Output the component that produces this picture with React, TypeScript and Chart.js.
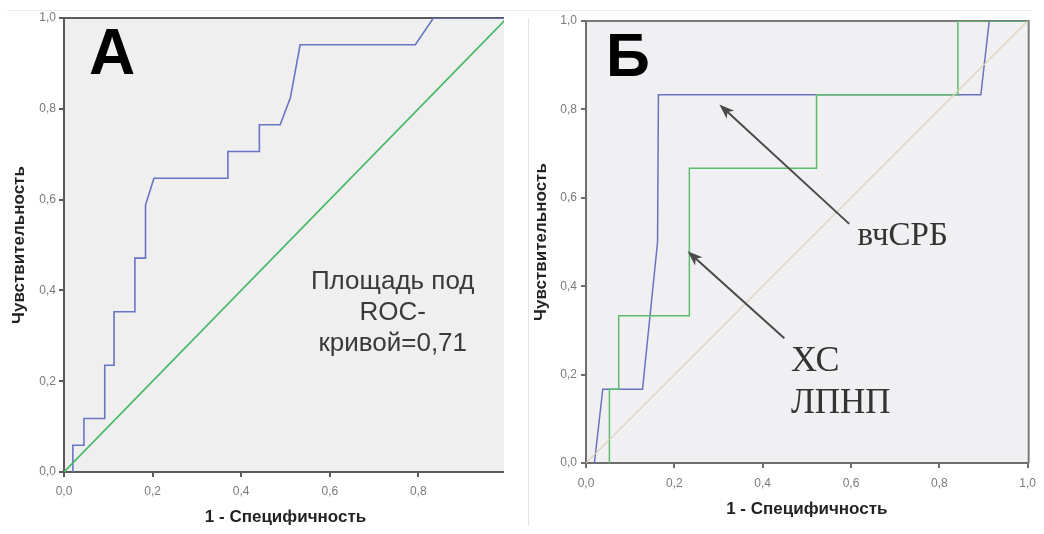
import React, { useEffect, useRef } from "react";
import { Chart, registerables } from "chart.js";

Chart.register(...registerables);

// ---------- shared ticks ----------
const tickValues = [0, 0.2, 0.4, 0.6, 0.8, 1.0];
const yTickLabels = ["0,0", "0,2", "0,4", "0,6", "0,8", "1,0"];
const xTickLabelsA = ["0,0", "0,2", "0,4", "0,6", "0,8", "1"];
const xTickLabelsB = ["0,0", "0,2", "0,4", "0,6", "0,8", "1,0"];

// ---------- panel A data ----------
const rocAx = [0.019, 0.02, 0.045, 0.045, 0.092, 0.092, 0.113, 0.113, 0.16, 0.16, 0.184, 0.184, 0.203, 0.37, 0.37, 0.441, 0.441, 0.488, 0.511, 0.533, 0.793, 0.834, 1.0];
const rocAy = [0.0, 0.059, 0.059, 0.118, 0.118, 0.235, 0.235, 0.353, 0.353, 0.471, 0.471, 0.588, 0.647, 0.647, 0.706, 0.706, 0.765, 0.765, 0.824, 0.941, 0.941, 1.0, 1.0];
const refAx = [0, 1];
const refAy = [0, 1];

// ---------- panel B data ----------
const crpX = [0.019, 0.038, 0.128, 0.162, 0.164, 0.894, 0.913, 1.0];
const crpY = [0.0, 0.167, 0.167, 0.5, 0.833, 0.833, 1.0, 1.0];
const ldlX = [0.053, 0.053, 0.074, 0.074, 0.234, 0.234, 0.522, 0.522, 0.842, 0.842, 1.0];
const ldlY = [0.0, 0.167, 0.167, 0.333, 0.333, 0.667, 0.667, 0.833, 0.833, 1.0, 1.0];
const refBx = [0, 1];
const refBy = [0, 1];

const pts = (xs: number[], ys: number[]) => xs.map((x, i) => ({ x, y: ys[i] }));

type TextItem = { text: string; x: number; y: number; font: string; color: string; align: CanvasTextAlign };
type Arrow = { x1: number; y1: number; x2: number; y2: number };
type Deco = {
  bg: string;
  frameColor: string;
  frameWidth: number;
  frameRight: boolean;
  letter: string;
  letterFont: string;
  letterDx: number;
  letterDy: number;
  texts: TextItem[];
  arrows: Arrow[];
};

function makeDeco(d: Deco) {
  return {
    id: "panelDeco",
    beforeDraw(chart: any) {
      const { ctx, chartArea } = chart;
      const { left, top, right, bottom } = chartArea;
      ctx.save();
      ctx.fillStyle = d.bg;
      ctx.fillRect(left, top, right - left, bottom - top);
      ctx.restore();
    },
    beforeDatasetsDraw(chart: any) {
      const { ctx, chartArea } = chart;
      const { left, top, right, bottom } = chartArea;
      ctx.save();
      ctx.strokeStyle = d.frameColor;
      ctx.lineWidth = d.frameWidth;
      ctx.beginPath();
      ctx.moveTo(left, top);
      ctx.lineTo(right + 1, top);
      if (d.frameRight) {
        ctx.lineTo(right + 1, bottom);
      }
      ctx.stroke();
      ctx.restore();
    },
    afterDatasetsDraw(chart: any) {
      const { ctx, chartArea, scales } = chart;
      const sx = scales.x;
      const sy = scales.y;
      ctx.save();
      // big panel letter
      ctx.fillStyle = "#000";
      ctx.font = d.letterFont;
      ctx.textAlign = "left";
      ctx.textBaseline = "alphabetic";
      ctx.fillText(d.letter, chartArea.left + d.letterDx, chartArea.top + d.letterDy);
      // texts
      for (const t of d.texts) {
        ctx.fillStyle = t.color;
        ctx.font = t.font;
        ctx.textAlign = t.align;
        ctx.fillText(t.text, sx.getPixelForValue(t.x), sy.getPixelForValue(t.y));
      }
      // arrows
      for (const a of d.arrows) {
        const x1 = sx.getPixelForValue(a.x1);
        const y1 = sy.getPixelForValue(a.y1);
        const x2 = sx.getPixelForValue(a.x2);
        const y2 = sy.getPixelForValue(a.y2);
        const ang = Math.atan2(y2 - y1, x2 - x1);
        const L = 15;
        const W = 5.5;
        ctx.strokeStyle = "#4a4a4a";
        ctx.fillStyle = "#4a4a4a";
        ctx.lineWidth = 2;
        ctx.beginPath();
        ctx.moveTo(x1, y1);
        ctx.lineTo(x2 - Math.cos(ang) * 6, y2 - Math.sin(ang) * 6);
        ctx.stroke();
        ctx.beginPath();
        ctx.moveTo(x2, y2);
        ctx.lineTo(x2 - Math.cos(ang) * L + Math.sin(ang) * W, y2 - Math.sin(ang) * L - Math.cos(ang) * W);
        ctx.lineTo(x2 - Math.cos(ang) * (L - 4), y2 - Math.sin(ang) * (L - 4));
        ctx.lineTo(x2 - Math.cos(ang) * L - Math.sin(ang) * W, y2 - Math.sin(ang) * L + Math.cos(ang) * W);
        ctx.closePath();
        ctx.fill();
      }
      ctx.restore();
    },
  };
}

type PanelCfg = {
  datasets: any[];
  xLabels: string[];
  yAxisWidth: number;
  xAxisHeight: number;
  padTop: number;
  padRight: number;
  yTitlePad: number;
  xTitlePad: number;
  xTickPad: number;
  yTickPad: number;
  axisColor: string;
  deco: Deco;
};

function buildChart(canvas: HTMLCanvasElement, p: PanelCfg) {
  const tickFont = { family: "'Liberation Sans', Arial, sans-serif", size: 12 };
  const titleFont = { family: "'Liberation Sans', Arial, sans-serif", size: 17, weight: "bold" as const };
  return new Chart(canvas, {
    type: "scatter",
    data: { datasets: p.datasets },
    plugins: [makeDeco(p.deco)],
    options: {
      animation: false,
      responsive: false,
      maintainAspectRatio: false,
      layout: { padding: { top: p.padTop, right: p.padRight, left: 0, bottom: 0 } },
      plugins: { legend: { display: false }, tooltip: { enabled: false } },
      elements: { point: { radius: 0 } },
      scales: {
        x: {
          type: "linear",
          min: 0,
          max: 1,
          afterBuildTicks: (scale: any) => {
            scale.ticks = tickValues.map((v) => ({ value: v }));
          },
          afterFit: (scale: any) => {
            scale.height = p.xAxisHeight;
          },
          ticks: {
            autoSkip: false,
            maxRotation: 0,
            padding: p.xTickPad,
            color: "#7a7a7a",
            font: tickFont,
            callback: (_v: any, i: number) => p.xLabels[i],
          },
          grid: { display: true, drawOnChartArea: false, drawTicks: true, tickLength: 5, color: p.axisColor, lineWidth: 2 },
          border: { display: true, color: p.axisColor, width: 2 },
          title: {
            display: true,
            text: "1 - Специфичность",
            color: "#222",
            font: titleFont,
            padding: { top: 0, bottom: p.xTitlePad },
          },
        },
        y: {
          type: "linear",
          min: 0,
          max: 1,
          afterBuildTicks: (scale: any) => {
            scale.ticks = tickValues.map((v) => ({ value: v }));
          },
          afterFit: (scale: any) => {
            scale.width = p.yAxisWidth;
          },
          ticks: {
            autoSkip: false,
            padding: p.yTickPad,
            color: "#7a7a7a",
            font: tickFont,
            callback: (_v: any, i: number) => yTickLabels[i],
          },
          grid: { display: true, drawOnChartArea: false, drawTicks: true, tickLength: 5, color: p.axisColor, lineWidth: 2 },
          border: { display: true, color: p.axisColor, width: 2 },
          title: {
            display: true,
            text: "Чувствительность",
            color: "#222",
            font: titleFont,
            padding: { top: p.yTitlePad, bottom: 0 },
          },
        },
      },
    } as any,
  });
}

const lineDs = (data: any[], color: string, width: number) => ({
  data,
  showLine: true,
  borderColor: color,
  borderWidth: width,
  pointRadius: 0,
  tension: 0,
  fill: false,
});

function PanelA() {
  const ref = useRef<HTMLCanvasElement>(null);
  useEffect(() => {
    if (!ref.current) return;
    const annFont = "26px 'Liberation Sans', Arial, sans-serif";
    const chart = buildChart(ref.current, {
      datasets: [lineDs(pts(refAx, refAy), "#45b866", 1.6), lineDs(pts(rocAx, rocAy), "#6874c4", 1.6)],
      xLabels: xTickLabelsA,
      yAxisWidth: 64,
      xAxisHeight: 62,
      padTop: 18,
      padRight: 13,
      yTitlePad: 9,
      xTitlePad: 6,
      xTickPad: 7,
      yTickPad: 3,
      axisColor: "#5a5a5a",
      deco: {
        bg: "#efefef",
        frameColor: "#5a5a5a",
        frameWidth: 2,
        frameRight: false,
        letter: "А",
        letterFont: "bold 64px 'Liberation Sans', Arial, sans-serif",
        letterDx: 25,
        letterDy: 56,
        texts: [
          { text: "Площадь под", x: 0.742, y: 0.402, font: annFont, color: "#3a3a3a", align: "center" },
          { text: "ROC-", x: 0.742, y: 0.335, font: annFont, color: "#3a3a3a", align: "center" },
          { text: "кривой=0,71", x: 0.742, y: 0.267, font: annFont, color: "#3a3a3a", align: "center" },
        ],
        arrows: [],
      },
    });
    return () => chart.destroy();
  }, []);
  return (
    <div style={{ position: "absolute", left: 0, top: 0, width: 504, height: 534, overflow: "hidden" }}>
      <canvas ref={ref} width={520} height={534} style={{ display: "block" }} />
    </div>
  );
}

function PanelB() {
  const ref = useRef<HTMLCanvasElement>(null);
  useEffect(() => {
    if (!ref.current) return;
    const chart = buildChart(ref.current, {
      datasets: [
        lineDs(pts(refBx, refBy), "#d8d2b0", 1.2),
        lineDs(pts(ldlX, ldlY), "#5cbc6c", 1.5),
        lineDs(pts(crpX, crpY), "#6a72c0", 1.5),
      ],
      xLabels: xTickLabelsB,
      yAxisWidth: 57,
      xAxisHeight: 71,
      padTop: 21,
      padRight: 15,
      yTitlePad: 2,
      xTitlePad: 14,
      xTickPad: 8,
      yTickPad: 4,
      axisColor: "#6e6e6e",
      deco: {
        bg: "#f0f0f2",
        frameColor: "#7a7a7a",
        frameWidth: 2,
        frameRight: true,
        letter: "Б",
        letterFont: "bold 61px 'Liberation Sans', Arial, sans-serif",
        letterDx: 20,
        letterDy: 55,
        texts: [
          { text: "вчСРБ", x: 0.615, y: 0.494, font: "33px 'Liberation Serif', 'Times New Roman', serif", color: "#333", align: "left" },
          { text: "ХС", x: 0.464, y: 0.208, font: "36px 'Liberation Serif', 'Times New Roman', serif", color: "#333", align: "left" },
          { text: "ЛПНП", x: 0.464, y: 0.112, font: "35px 'Liberation Serif', 'Times New Roman', serif", color: "#333", align: "left" },
        ],
        arrows: [
          { x1: 0.596, y1: 0.541, x2: 0.302, y2: 0.811 },
          { x1: 0.449, y1: 0.282, x2: 0.23, y2: 0.479 },
        ],
      },
    });
    return () => chart.destroy();
  }, []);
  return (
    <div style={{ position: "absolute", left: 529, top: 0, width: 515, height: 534, overflow: "hidden" }}>
      <canvas ref={ref} width={515} height={534} style={{ display: "block" }} />
    </div>
  );
}

export default function App() {
  return (
    <div style={{ position: "fixed", left: 0, top: 0, width: 1044, height: 534, background: "#fff", overflow: "hidden" }}>
      <div style={{ position: "absolute", left: 7, top: 10, width: 1025, height: 0, borderTop: "1px solid #ececec" }} />
      <div style={{ position: "absolute", left: 528, top: 18, width: 0, height: 508, borderLeft: "1px solid #e4e4e4" }} />
      <PanelA />
      <PanelB />
    </div>
  );
}
